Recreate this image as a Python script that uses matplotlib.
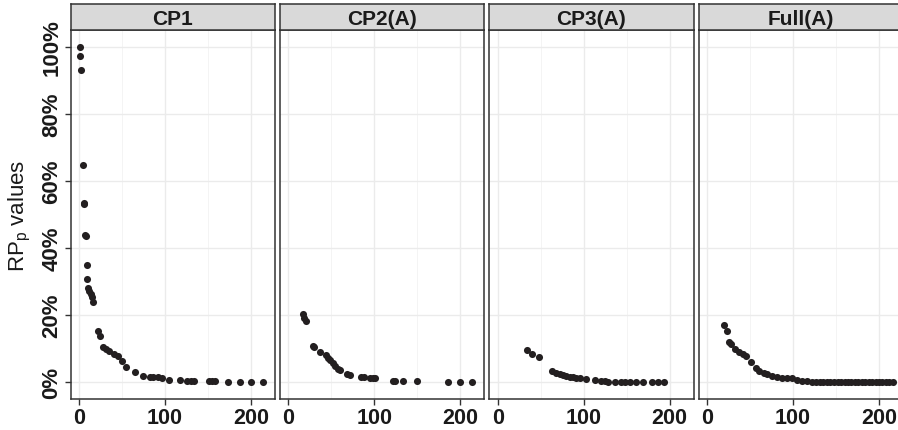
import matplotlib
matplotlib.use("Agg")
import matplotlib.pyplot as plt
from matplotlib.ticker import FixedLocator

plt.rcParams['font.family'] = ['Liberation Sans', 'DejaVu Sans']
plt.rcParams['mathtext.default'] = 'regular'

# panel titles
panels = ['CP1', 'CP2(A)', 'CP3(A)', 'Full(A)']

# values (x = count, y = RP_p in %)
cp1_x = [1, 1.5, 2.5, 4.3, 5.4, 5.8, 7.0, 7.5, 8.9, 9.7, 10.8, 12, 13.5, 14.7, 15.9,
         22, 24.4, 28.2, 31.3, 35.2, 41, 45.6, 49.5, 54.5, 64.6, 74.6, 82.4, 85.5,
         92, 96, 104.8, 117, 125, 129.6, 133.8, 151, 155, 157.8, 173.7, 186.8,
         199.5, 214]
cp1_y = [100, 97.2, 93.1, 64.7, 53.3, 53.0, 44.0, 43.7, 34.8, 30.7, 28.2, 27.2,
         26.3, 25.5, 23.8, 15.4, 13.7, 10.6, 9.8, 9.4, 8.5, 7.8, 6.3, 4.5, 3.0,
         2.0, 1.7, 1.7, 1.5, 1.4, 0.8, 0.6, 0.3, 0.3, 0.3, 0.3, 0.3, 0.3, 0.0,
         0.0, 0.0, 0.0]

cp2_x = [16.7, 18.2, 20.2, 28.3, 30.2, 36.8, 43.7, 46.4, 48.4, 51.5, 54.2, 58, 60,
         67.7, 71.6, 84.3, 88.2, 94.8, 98.6, 100.6, 121.8, 124, 132.7, 149,
         185.6, 199, 213.5]
cp2_y = [20.2, 19.2, 18.4, 10.7, 10.6, 9.1, 8.0, 7.3, 6.5, 5.6, 4.8, 3.8, 3.5,
         2.6, 2.3, 1.6, 1.6, 1.4, 1.4, 1.3, 0.5, 0.3, 0.3, 0.3, 0.0, 0.0, 0.0]

cp3_x = [34.2, 40, 48.2, 62.9, 68.3, 72.2, 76, 79.9, 83.8, 87.6, 91.5, 95.4, 103,
         112.8, 120.5, 124.4, 128.2, 136, 143.7, 147.6, 153.4, 161, 168.8, 179.7,
         186.2, 192.8]
cp3_y = [9.6, 8.5, 7.5, 3.3, 2.8, 2.5, 2.2, 2.0, 1.7, 1.5, 1.3, 1.3, 1.0, 0.8,
         0.5, 0.3, 0.2, 0.2, 0.2, 0.2, 0.1, 0.0, 0.0, 0.0, 0.0, 0.0]

full_x = [20, 23.1, 25.8, 27.8, 32.4, 37.4, 41.3, 45.1, 51, 56.7, 60.6, 66.4,
          70.3, 76.1, 81.9, 87.7, 93.5, 99.3, 105, 110.9, 116.7, 122.5, 127,
          131, 135, 139, 143, 148, 152, 156, 160, 164, 168, 172, 176, 180, 184,
          188, 192, 196, 200, 204, 208, 212, 216]
full_y = [17.1, 15.4, 11.9, 11.3, 9.8, 9.0, 8.5, 7.8, 6.0, 4.1, 3.3, 2.8, 2.6,
          2.0, 1.6, 1.4, 1.4, 1.3, 0.8, 0.5, 0.3, 0.2, 0.2, 0.2, 0.2, 0.1, 0.1,
          0.1, 0.1, 0.0, 0.0, 0.0, 0.0, 0.0, 0.0, 0.0, 0.0, 0.0, 0.0, 0.0, 0.0,
          0.0, 0.0, 0.0, 0.0]

series = [(cp1_x, cp1_y), (cp2_x, cp2_y), (cp3_x, cp3_y), (full_x, full_y)]

W, H = 898, 431
fig = plt.figure(figsize=(W / 100, H / 100), dpi=100)

left0, step, pw = 70.7, 209.3, 204.3
ptop, pbot = 31, 400
stop = 5
edge = '#333333'

for i, (name, (xs, ys)) in enumerate(zip(panels, series)):
    left = left0 + i * step
    ax = fig.add_axes([left / W, (H - pbot) / H, pw / W, (pbot - ptop) / H])
    ax.set_xlim(-9.8, 227.8)
    ax.set_ylim(-5, 105)
    ax.xaxis.set_major_locator(FixedLocator([0, 100, 200]))
    ax.xaxis.set_minor_locator(FixedLocator([50, 150]))
    ax.yaxis.set_major_locator(FixedLocator([0, 20, 40, 60, 80, 100]))
    ax.grid(which='major', color='#EBEBEB', lw=1.0, zorder=0)
    ax.grid(which='minor', axis='x', color='#F3F3F3', lw=0.6, zorder=0)
    ax.set_axisbelow(True)
    ax.scatter(xs, ys, s=26, color='#231f20', linewidths=0, zorder=3)
    for sp in ax.spines.values():
        sp.set_color(edge)
        sp.set_linewidth(1.1)
    ax.tick_params(which='major', length=4, width=1, color=edge,
                   labelsize=15.5, pad=2)
    ax.tick_params(which='minor', length=0)
    for lab in ax.get_xticklabels():
        lab.set_fontweight('bold')
        lab.set_color('#1a1a1a')
    if i == 0:
        ax.set_yticklabels([f'{v}%' for v in [0, 20, 40, 60, 80, 100]],
                           rotation=90, va='center', fontweight='bold',
                           color='#1a1a1a', fontsize=16)
        ax.set_ylabel('RP$_p$ values', fontsize=16, color='#1a1a1a', labelpad=6)
    else:
        ax.tick_params(axis='y', length=0, labelleft=False)

    # facet strip
    st = fig.add_axes([left / W, (H - ptop) / H, pw / W, (ptop - stop) / H])
    st.set_facecolor('#D9D9D9')
    st.set_xticks([])
    st.set_yticks([])
    for sp in st.spines.values():
        sp.set_color(edge)
        sp.set_linewidth(1.1)
    st.text(0.5, 0.45, name, ha='center', va='center', fontsize=15,
            fontweight='bold', color='#1a1a1a', transform=st.transAxes)

fig.savefig('out.png', dpi=100)
